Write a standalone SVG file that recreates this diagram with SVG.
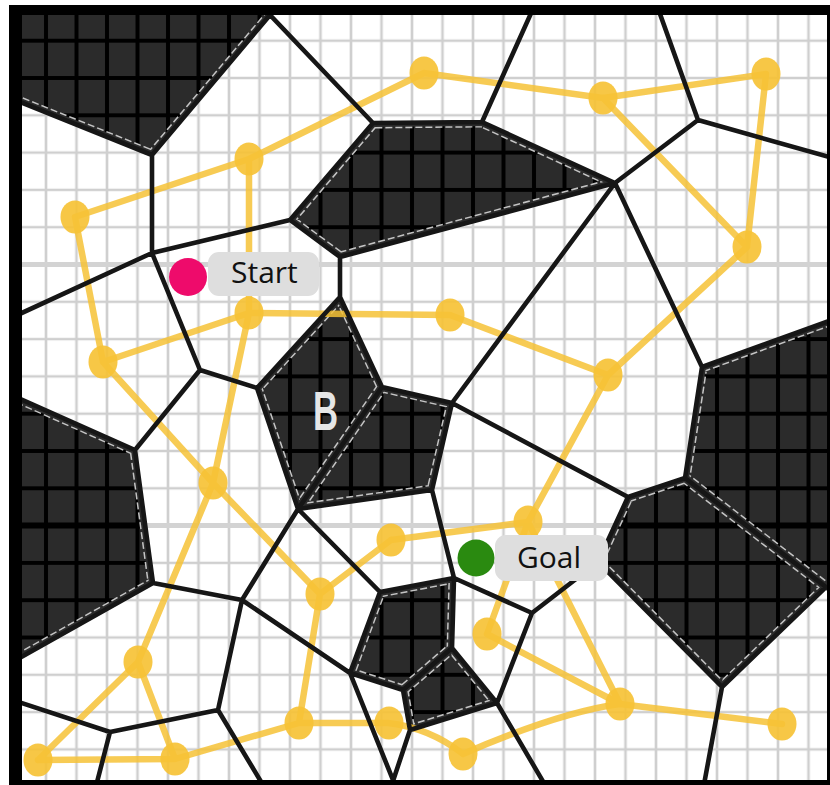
<svg xmlns="http://www.w3.org/2000/svg" xmlns:xlink="http://www.w3.org/1999/xlink" width="830" height="785" viewBox="0 0 830 785">
<style>
.edge{fill:none;stroke:#161616;stroke-width:4.6;stroke-linecap:round;stroke-linejoin:round}
.dash{fill:none;stroke:#c4c4c4;stroke-width:11;stroke-dasharray:7 3}
.cover{fill:none;stroke:#2b2b2b;stroke-width:8}
.dark{fill:url(#gd)}
.yl{fill:none;stroke:#f6c236;stroke-width:6.5;stroke-linecap:round;opacity:.85}
.yn{fill:#f6c236;opacity:.92}
.lbl{fill:#dedede}
.txt{font-family:"Open Sans","Liberation Sans",sans-serif;font-size:30px;fill:#111}
</style>
<defs>
<pattern id="gl" patternUnits="userSpaceOnUse" x="15.5" y="3.4" width="30.5" height="37.3">
<rect width="30.5" height="37.3" fill="#fff"/>
<path d="M0 0V37.3M30.5 0V37.3M0 0H30.5M0 37.3H30.5" stroke="#cfcfcf" stroke-width="2.6"/>
</pattern>
<pattern id="gd" patternUnits="userSpaceOnUse" x="15.5" y="3.4" width="30.5" height="37.3">
<rect width="30.5" height="37.3" fill="#2b2b2b"/>
<path d="M0 0V37.3M30.5 0V37.3M0 0H30.5M0 37.3H30.5" stroke="#000" stroke-width="4"/>
</pattern>
<polygon id="P1" points="0,0 283,0 152,155 0,94"/>
<polygon id="P2" points="290,220 373,123 482,122 615,183 340,257"/>
<polygon id="P3" points="340,297 382,387 298,509 257,388"/>
<polygon id="P4" points="382,387 452,403 432,490 298,509"/>
<polygon id="P5" points="0,390 135,450 153,583 0,669"/>
<polygon id="P6" points="702,367 840,317 840,598 685,478"/>
<polygon id="P7" points="628,497 685,478 826,587 722,687 598,562"/>
<polygon id="P8" points="380,592 454,578 452,648 403,690 350,673"/>
<polygon id="P9" points="403,690 452,648 497,703 410,730"/>
<clipPath id="c1"><use xlink:href="#P1"/></clipPath>
<clipPath id="c2"><use xlink:href="#P2"/></clipPath>
<clipPath id="c3"><use xlink:href="#P3"/></clipPath>
<clipPath id="c4"><use xlink:href="#P4"/></clipPath>
<clipPath id="c5"><use xlink:href="#P5"/></clipPath>
<clipPath id="c6"><use xlink:href="#P6"/></clipPath>
<clipPath id="c7"><use xlink:href="#P7"/></clipPath>
<clipPath id="c8"><use xlink:href="#P8"/></clipPath>
<clipPath id="c9"><use xlink:href="#P9"/></clipPath>
<clipPath id="darkall">
<use xlink:href="#P1"/><use xlink:href="#P2"/><use xlink:href="#P3"/><use xlink:href="#P4"/><use xlink:href="#P5"/><use xlink:href="#P6"/><use xlink:href="#P7"/><use xlink:href="#P8"/><use xlink:href="#P9"/>
</clipPath>
<clipPath id="inner"><rect x="22" y="15" width="805" height="765"/></clipPath>
</defs>
<rect width="830" height="785" fill="#fff"/>
<g id="map" clip-path="url(#inner)">
<rect x="0" y="0" width="830" height="785" fill="url(#gl)"/>
<path d="M0 264.5H830M0 525.6H830" stroke="#d3d3d3" stroke-width="5"/>
<g id="cells">
<use xlink:href="#P1" class="dark"/><use xlink:href="#P2" class="dark"/><use xlink:href="#P3" class="dark"/>
<use xlink:href="#P4" class="dark"/><use xlink:href="#P5" class="dark"/><use xlink:href="#P6" class="dark"/>
<use xlink:href="#P7" class="dark"/><use xlink:href="#P8" class="dark"/><use xlink:href="#P9" class="dark"/>
<path d="M0 264.5H830M0 525.6H830" stroke="#000" stroke-width="6" clip-path="url(#darkall)"/>
<use xlink:href="#P1" class="dash" clip-path="url(#c1)"/><use xlink:href="#P1" class="cover" clip-path="url(#c1)"/>
<use xlink:href="#P2" class="dash" clip-path="url(#c2)"/><use xlink:href="#P2" class="cover" clip-path="url(#c2)"/>
<use xlink:href="#P3" class="dash" clip-path="url(#c3)"/><use xlink:href="#P3" class="cover" clip-path="url(#c3)"/>
<use xlink:href="#P4" class="dash" clip-path="url(#c4)"/><use xlink:href="#P4" class="cover" clip-path="url(#c4)"/>
<use xlink:href="#P5" class="dash" clip-path="url(#c5)"/><use xlink:href="#P5" class="cover" clip-path="url(#c5)"/>
<use xlink:href="#P6" class="dash" clip-path="url(#c6)"/><use xlink:href="#P6" class="cover" clip-path="url(#c6)"/>
<use xlink:href="#P7" class="dash" clip-path="url(#c7)"/><use xlink:href="#P7" class="cover" clip-path="url(#c7)"/>
<use xlink:href="#P8" class="dash" clip-path="url(#c8)"/><use xlink:href="#P8" class="cover" clip-path="url(#c8)"/>
<use xlink:href="#P9" class="dash" clip-path="url(#c9)"/><use xlink:href="#P9" class="cover" clip-path="url(#c9)"/>
</g>
<g id="connectors">
<path class="yl" d="M424 73L603 98M603 98L766 74M424 73L249 159M249 159L75 217M249 159L249 313M603 98L747 247M766 74L747 247M747 247L608 375M608 375L450 315M450 315L249 313M75 217L103 362M103 362L249 313M249 313L213 483M103 362L213 483M213 483L320 594M213 483L138 662M320 594L391 540M391 540L528 522M608 375L528 522M320 594L299 723M138 662L38 760M138 662L175 759M38 760L175 759M175 759L299 723M299 723L388 723M388 723Q430 728 463 754M463 754Q560 712 620 704M620 704L782 724M620 704L487 634M487 634L528 522M620 704L528 522"/>
</g>
<g id="n1"><ellipse class="yn" cx="424" cy="73" rx="14.5" ry="16.5"/></g>
<g id="n2"><ellipse class="yn" cx="603" cy="98" rx="14.5" ry="16.5"/></g>
<g id="n3"><ellipse class="yn" cx="766" cy="74" rx="14.5" ry="16.5"/></g>
<g id="n4"><ellipse class="yn" cx="249" cy="159" rx="14.5" ry="16.5"/></g>
<g id="n5"><ellipse class="yn" cx="75" cy="217" rx="14.5" ry="16.5"/></g>
<g id="n6"><ellipse class="yn" cx="747" cy="247" rx="14.5" ry="16.5"/></g>
<g id="n7"><ellipse class="yn" cx="249" cy="313" rx="14.5" ry="16.5"/></g>
<g id="n8"><ellipse class="yn" cx="450" cy="315" rx="14.5" ry="16.5"/></g>
<g id="n9"><ellipse class="yn" cx="103" cy="362" rx="14.5" ry="16.5"/></g>
<g id="n10"><ellipse class="yn" cx="608" cy="375" rx="14.5" ry="16.5"/></g>
<g id="n11"><ellipse class="yn" cx="213" cy="483" rx="14.5" ry="16.5"/></g>
<g id="n12"><ellipse class="yn" cx="528" cy="522" rx="14.5" ry="16.5"/></g>
<g id="n13"><ellipse class="yn" cx="391" cy="540" rx="14.5" ry="16.5"/></g>
<g id="n14"><ellipse class="yn" cx="320" cy="594" rx="14.5" ry="16.5"/></g>
<g id="n15"><ellipse class="yn" cx="487" cy="634" rx="14.5" ry="16.5"/></g>
<g id="n16"><ellipse class="yn" cx="138" cy="662" rx="14.5" ry="16.5"/></g>
<g id="n17"><ellipse class="yn" cx="620" cy="704" rx="14.5" ry="16.5"/></g>
<g id="n18"><ellipse class="yn" cx="782" cy="724" rx="14.5" ry="16.5"/></g>
<g id="n19"><ellipse class="yn" cx="299" cy="723" rx="14.5" ry="16.5"/></g>
<g id="n20"><ellipse class="yn" cx="389" cy="723" rx="14.5" ry="16.5"/></g>
<g id="n21"><ellipse class="yn" cx="463" cy="754" rx="14.5" ry="16.5"/></g>
<g id="n22"><ellipse class="yn" cx="38" cy="760" rx="14.5" ry="16.5"/></g>
<g id="n23"><ellipse class="yn" cx="175" cy="759" rx="14.5" ry="16.5"/></g>
<path class="edge" d="M270 15L152 155M270 15L373 123M152 155L0 94M152 155L152 253M152 253L0 323M152 253L290 220M152 253L200 370M290 220L373 123M290 220L340 257M373 123L482 122M482 122L537 0M482 122L615 183M615 183L340 257M615 183L698 120M698 120L655 0M698 120L840 160M615 183L452 403M615 183L702 367M702 367L840 317M702 367L685 478M685 478L840 598M826 587L722 687M722 687L703 790M628 497L685 478M628 497L452 403M628 497L598 562M598 562L722 687M598 562L532 613M340 257L340 297M340 297L257 388M340 297L382 387M257 388L200 370M257 388L298 509M382 387L452 403M382 387L298 509M452 403L432 490M432 490L298 509M432 490L454 578M200 370L135 450M135 450L0 390M135 450L153 583M153 583L0 669M153 583L242 600M242 600L298 509M242 600L350 673M242 600L218 710M218 710L110 732M218 710L266 790M110 732L0 696M110 732L95 790M298 509L380 592M380 592L454 578M454 578L452 648M454 578L532 613M452 648L403 690M403 690L350 673M350 673L380 592M452 648L497 703M497 703L410 730M410 730L403 690M497 703L532 613M497 703L548 790M350 673L397 790M410 730L390 790"/>
<text x="0" y="0" transform="translate(313,430) scale(0.62,1)" font-family="Liberation Sans, Arial, sans-serif" font-weight="bold" font-size="56" fill="#e6e6e6">B</text>
<g id="start">
<circle cx="188" cy="277" r="19" fill="#ee0b6b"/>
<rect class="lbl" x="208" y="252" width="111" height="44" rx="11"/>
<text class="txt" x="231" y="283">Start</text>
</g>
<g id="goal">
<circle cx="476" cy="558" r="18.5" fill="#2a8a10"/>
<rect class="lbl" x="495" y="535" width="113" height="46" rx="11"/>
<text class="txt" x="517" y="568">Goal</text>
</g>
</g>
<path d="M9 5H830V785H9ZM22 15V780H827V15Z" fill="#000" fill-rule="evenodd"/>
</svg>
